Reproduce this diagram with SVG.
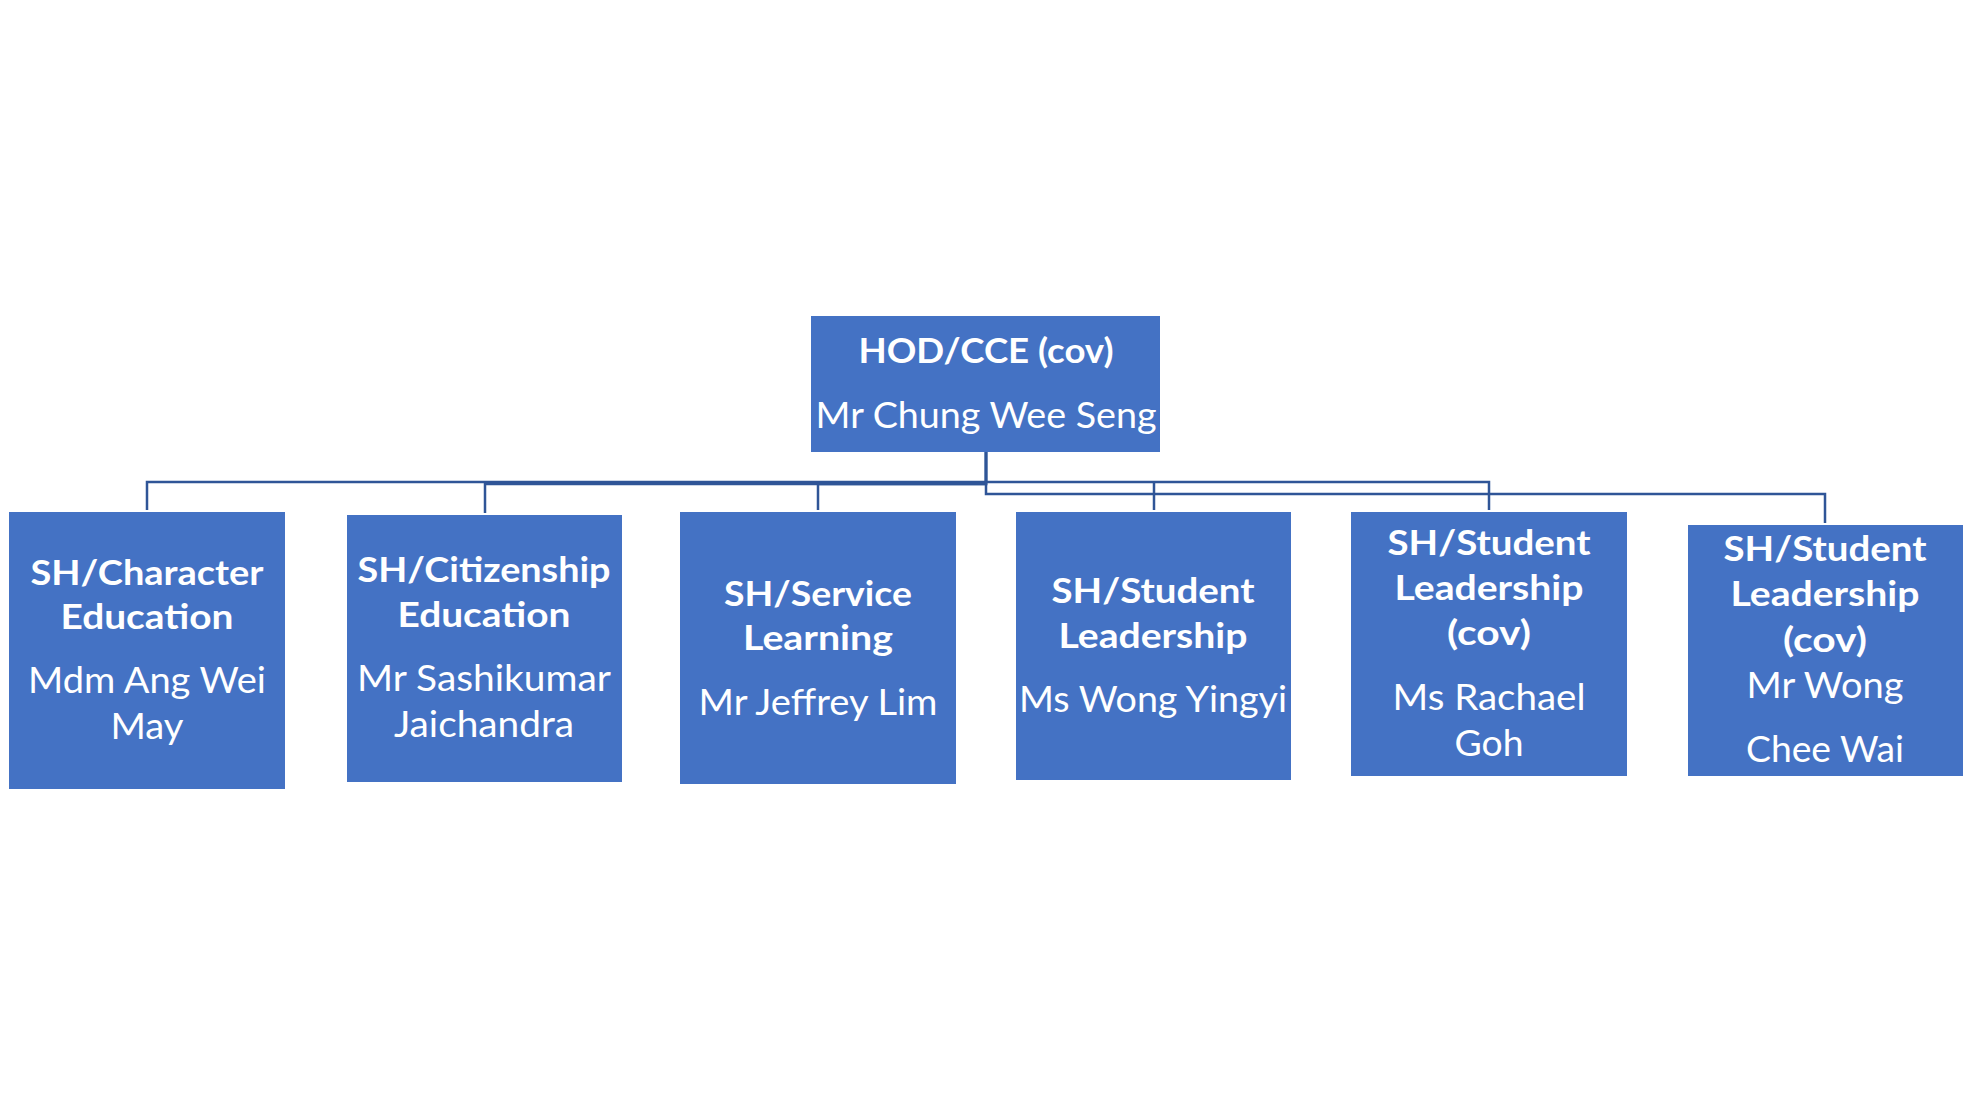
<svg xmlns="http://www.w3.org/2000/svg" width="1965" height="1104" viewBox="0 0 1965 1104">
<style>
.box{fill:#4472C4;}
.t{fill:#FFFFFF;font-family:Lato,"Open Sans","Liberation Sans",sans-serif;text-anchor:middle;}
.b{font-weight:bold;font-size:34px;}
.r{font-weight:normal;font-size:36px;}
.c{fill:none;stroke:#2F5597;stroke-width:2.5;}
</style>
<rect width="1965" height="1104" fill="#FFFFFF"/>
<g id="connectors">
<path class="c" d="M986 452 V482 H147 V510"/>
<path class="c" d="M986 452 V484 H485 V513"/>
<path class="c" d="M986 452 V484 H818 V510"/>
<path class="c" d="M986 452 V494 H1825 V523"/>
<path class="c" d="M986 482 H1489 V510"/>
<path class="c" d="M1154 482 V510"/>
</g>
<g id="hod">
<rect class="box" x="811" y="316" width="349" height="136"/>
<text class="t b" x="986" y="363" font-size="36" textLength="255" lengthAdjust="spacingAndGlyphs">HOD/CCE (cov)</text>
<text class="t r" x="986" y="428" font-size="38" textLength="341" lengthAdjust="spacingAndGlyphs">Mr Chung Wee Seng</text>
</g>
<g id="character">
<rect class="box" x="9" y="512" width="276" height="277"/>
<text class="t b" x="147" y="585" textLength="233" lengthAdjust="spacingAndGlyphs">SH/Character</text>
<text class="t b" x="147" y="629" textLength="173" lengthAdjust="spacingAndGlyphs">Education</text>
<text class="t r" x="147" y="693" textLength="238" lengthAdjust="spacingAndGlyphs">Mdm Ang Wei</text>
<text class="t r" x="147" y="739" textLength="73" lengthAdjust="spacingAndGlyphs">May</text>
</g>
<g id="citizenship">
<rect class="box" x="347" y="515" width="275" height="267"/>
<text class="t b" x="484" y="582" textLength="253" lengthAdjust="spacingAndGlyphs">SH/Citizenship</text>
<text class="t b" x="484" y="627" textLength="173" lengthAdjust="spacingAndGlyphs">Education</text>
<text class="t r" x="484" y="691" textLength="254" lengthAdjust="spacingAndGlyphs">Mr Sashikumar</text>
<text class="t r" x="484" y="737" textLength="180" lengthAdjust="spacingAndGlyphs">Jaichandra</text>
</g>
<g id="service">
<rect class="box" x="680" y="512" width="276" height="272"/>
<text class="t b" x="818" y="606" textLength="188" lengthAdjust="spacingAndGlyphs">SH/Service</text>
<text class="t b" x="818" y="650" textLength="150" lengthAdjust="spacingAndGlyphs">Learning</text>
<text class="t r" x="818" y="715" textLength="239" lengthAdjust="spacingAndGlyphs">Mr Jeffrey Lim</text>
</g>
<g id="student1">
<rect class="box" x="1016" y="512" width="275" height="268"/>
<text class="t b" x="1153" y="603" textLength="203" lengthAdjust="spacingAndGlyphs">SH/Student</text>
<text class="t b" x="1153" y="648" textLength="189" lengthAdjust="spacingAndGlyphs">Leadership</text>
<text class="t r" x="1153" y="712" textLength="268" lengthAdjust="spacingAndGlyphs">Ms Wong Yingyi</text>
</g>
<g id="student2">
<rect class="box" x="1351" y="512" width="276" height="264"/>
<text class="t b" x="1489" y="555" textLength="203" lengthAdjust="spacingAndGlyphs">SH/Student</text>
<text class="t b" x="1489" y="600" textLength="189" lengthAdjust="spacingAndGlyphs">Leadership</text>
<text class="t b" x="1489" y="645" textLength="84" lengthAdjust="spacingAndGlyphs">(cov)</text>
<text class="t r" x="1489" y="710" textLength="193" lengthAdjust="spacingAndGlyphs">Ms Rachael</text>
<text class="t r" x="1489" y="756" textLength="69" lengthAdjust="spacingAndGlyphs">Goh</text>
</g>
<g id="student3">
<rect class="box" x="1688" y="525" width="275" height="251"/>
<text class="t b" x="1825" y="561" textLength="203" lengthAdjust="spacingAndGlyphs">SH/Student</text>
<text class="t b" x="1825" y="606" textLength="189" lengthAdjust="spacingAndGlyphs">Leadership</text>
<text class="t b" x="1825" y="652" textLength="84" lengthAdjust="spacingAndGlyphs">(cov)</text>
<text class="t r" x="1825" y="698" textLength="157" lengthAdjust="spacingAndGlyphs">Mr Wong</text>
<text class="t r" x="1825" y="762" textLength="158" lengthAdjust="spacingAndGlyphs">Chee Wai</text>
</g>
</svg>
